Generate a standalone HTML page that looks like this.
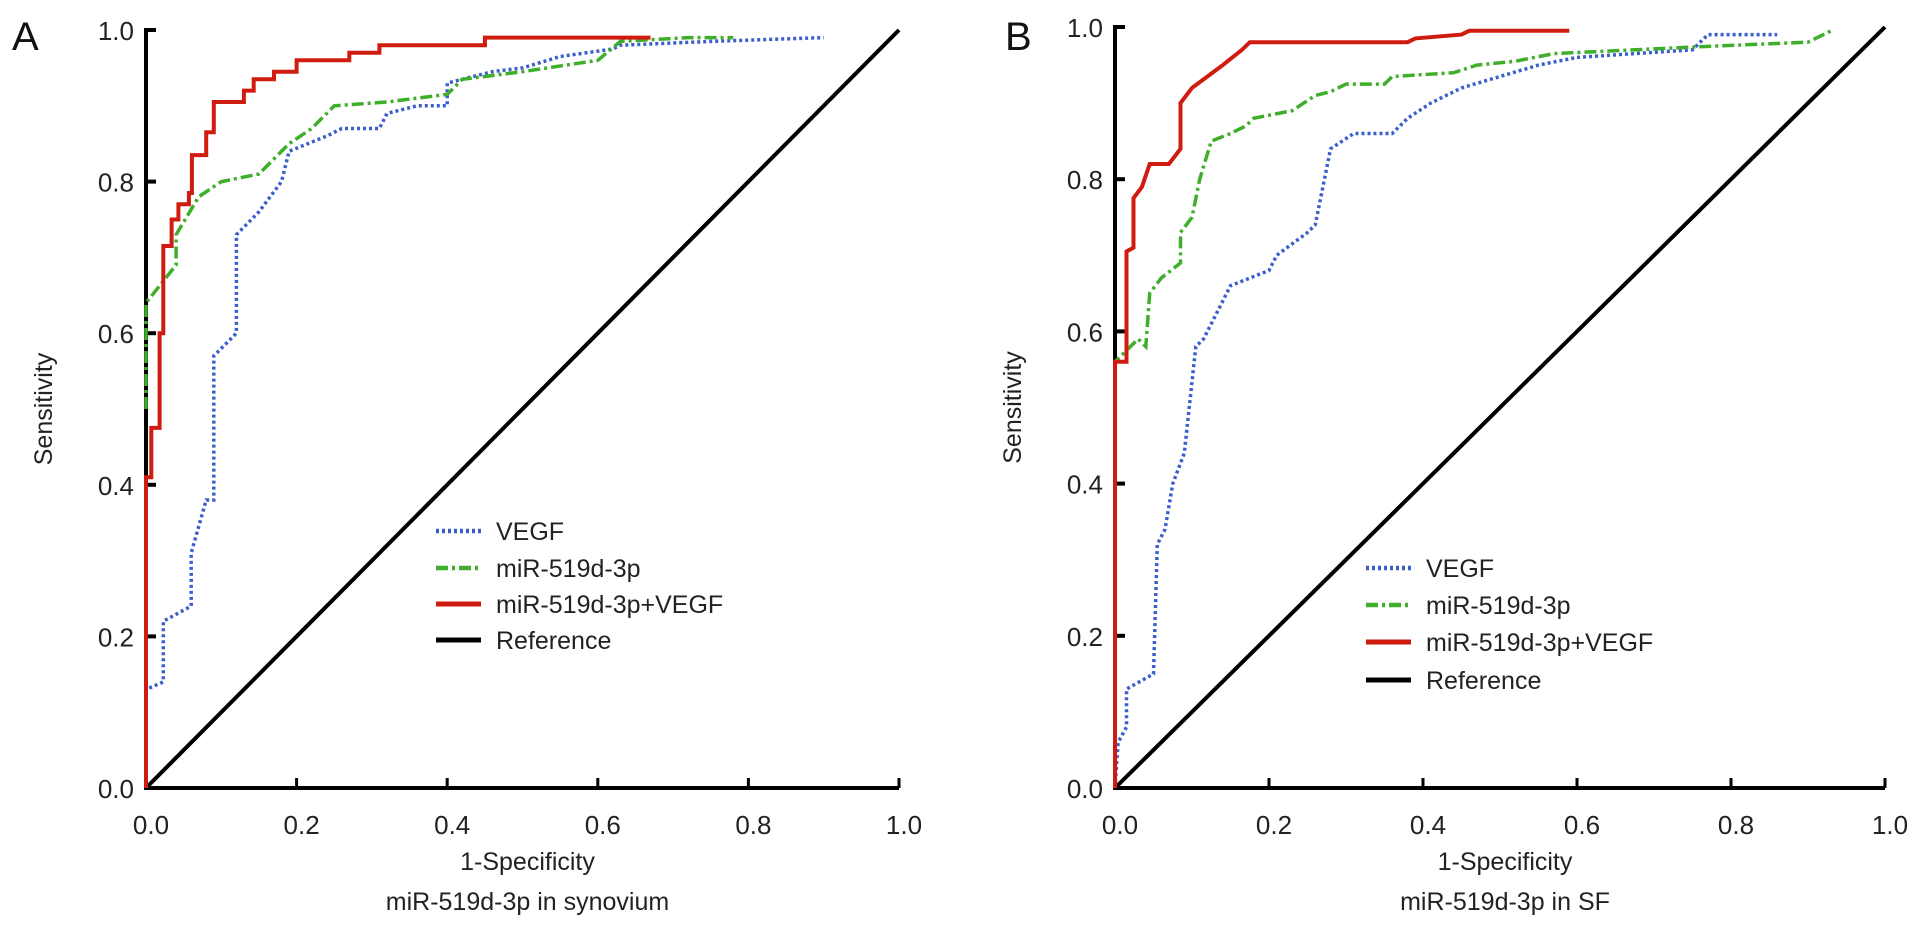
<!DOCTYPE html>
<html><head><meta charset="utf-8"><style>
html,body{margin:0;padding:0;background:#fff;}
svg{display:block;font-family:"Liberation Sans",Arial,sans-serif;}
</style></head><body>
<svg id="chart" width="1913" height="935" viewBox="0 0 1913 935"></svg>
<script>
// Panel A data
const aVegfX = [0,0,0.023,0.023,0.06,0.06,0.08,0.09,0.09,0.12,0.12,0.15,0.18,0.19,0.24,0.26,0.31,0.32,0.36,0.4,0.4,0.46,0.5,0.55,0.62,0.63,0.75,0.9];
const aVegfY = [0,0.13,0.14,0.22,0.24,0.31,0.38,0.38,0.57,0.6,0.73,0.76,0.8,0.84,0.86,0.87,0.87,0.89,0.9,0.9,0.93,0.945,0.95,0.965,0.975,0.98,0.985,0.99];
const aMirX = [0,0,0.04,0.04,0.07,0.1,0.15,0.19,0.22,0.25,0.32,0.36,0.4,0.42,0.5,0.6,0.63,0.72,0.78];
const aMirY = [0.5,0.64,0.69,0.73,0.78,0.8,0.81,0.85,0.87,0.9,0.905,0.91,0.915,0.935,0.945,0.96,0.985,0.99,0.99];
const aCombX = [0,0,0.007,0.007,0.018,0.018,0.023,0.023,0.034,0.034,0.043,0.043,0.057,0.057,0.061,0.061,0.08,0.08,0.09,0.09,0.13,0.13,0.143,0.143,0.17,0.17,0.2,0.2,0.27,0.27,0.31,0.31,0.45,0.45,0.67];
const aCombY = [0,0.41,0.41,0.475,0.475,0.6,0.6,0.715,0.715,0.75,0.75,0.77,0.77,0.785,0.785,0.835,0.835,0.865,0.865,0.905,0.905,0.92,0.92,0.935,0.935,0.945,0.945,0.96,0.96,0.97,0.97,0.98,0.98,0.99,0.99];
// Panel B data
const bVegfX = [0,0.004,0.015,0.015,0.05,0.055,0.065,0.075,0.09,0.105,0.115,0.13,0.15,0.2,0.21,0.25,0.26,0.28,0.31,0.36,0.38,0.41,0.45,0.5,0.55,0.6,0.75,0.77,0.86];
const bVegfY = [0,0.06,0.08,0.13,0.15,0.32,0.34,0.4,0.44,0.58,0.59,0.62,0.66,0.68,0.7,0.73,0.74,0.84,0.86,0.86,0.88,0.9,0.92,0.935,0.95,0.96,0.97,0.99,0.99];
const bMirX = [0,0,0.03,0.04,0.045,0.06,0.085,0.085,0.1,0.11,0.125,0.15,0.17,0.18,0.23,0.26,0.28,0.3,0.35,0.36,0.44,0.47,0.52,0.57,0.78,0.9,0.93];
const bMirY = [0.28,0.56,0.59,0.58,0.65,0.67,0.69,0.73,0.75,0.8,0.85,0.86,0.87,0.88,0.89,0.91,0.915,0.925,0.925,0.935,0.94,0.95,0.955,0.965,0.975,0.98,0.995];
const bCombX = [0,0,0.015,0.015,0.024,0.024,0.035,0.045,0.07,0.085,0.085,0.1,0.12,0.14,0.165,0.175,0.38,0.39,0.45,0.46,0.59];
const bCombY = [0,0.56,0.56,0.705,0.71,0.775,0.79,0.82,0.82,0.84,0.9,0.92,0.935,0.95,0.97,0.98,0.98,0.985,0.99,0.995,0.995];
const ticks = [0,0.2,0.4,0.6,0.8,1.0];
const tickLabels = ["0.0","0.2","0.4","0.6","0.8","1.0"];
const legendLabels = ["VEGF","miR-519d-3p","miR-519d-3p+VEGF","Reference"];

const NS="http://www.w3.org/2000/svg";
const svg=document.getElementById('chart');
function mk(tag,attrs,parent){const e=document.createElementNS(NS,tag);for(const k in attrs)e.setAttribute(k,attrs[k]);(parent||svg).appendChild(e);return e;}

const styles=[
 {stroke:"#3a5fcd",w:3.5,dash:"3 3"},
 {stroke:"#3fae2a",w:3.5,dash:"12 4 3 4"},
 {stroke:"#d01c10",w:4,dash:""},
 {stroke:"#000",w:4,dash:""}
];

function panel(p){
  const g=mk('g',{});
  
  
  const sx=v=>p.x0+v*(p.x1-p.x0);
  const sy=v=>p.y0+v*(p.y1-p.y0);
  const L=mk('text',{x:p.letterX,y:50,'font-size':40,fill:'#111'},g);L.textContent=p.letter;
  
  
  const ax=mk('path',{d:`M${sx(0)+10} ${sy(1)} H${sx(0)} V${sy(0)} H${sx(1)}`,stroke:'#000','stroke-width':4,fill:'none'},g);
  
  
  ticks.forEach((t,i)=>{
    mk('line',{x1:sx(0),x2:sx(0)+10,y1:sy(t),y2:sy(t),stroke:'#000','stroke-width':4},g);
    mk('line',{x1:sx(t),x2:sx(t),y1:sy(0),y2:sy(0)-10,stroke:'#000','stroke-width':3},g);
    const ty=mk('text',{x:sx(0)-12,y:sy(t)+10,'font-size':26,'text-anchor':'end',fill:'#222'},g);ty.textContent=tickLabels[i];
    
    
    const tx=mk('text',{x:sx(t)+5,y:sy(0)+46,'font-size':26,'text-anchor':'middle',fill:'#222'},g);tx.textContent=tickLabels[i];
    
    
  });
  const yt=mk('text',{x:0,y:0,'font-size':25,'text-anchor':'middle',fill:'#222',transform:`translate(${p.ytX},${(sy(0)+sy(1))/2}) rotate(-90)`},g);yt.textContent='Sensitivity';
  
  
  const cx=(sx(0)+sx(1))/2+5;
  const xt=mk('text',{x:cx,y:870,'font-size':25,'text-anchor':'middle',fill:'#222'},g);xt.textContent='1-Specificity';
  
  
  const st=mk('text',{x:cx,y:910,'font-size':25,'text-anchor':'middle',fill:'#222'},g);st.textContent=p.sub;
  
  
  const ref=mk('line',{x1:sx(0),y1:sy(0),x2:sx(1),y2:sy(1),stroke:'#000','stroke-width':4},g);
  
  
  const series=[[p.vx,p.vy,'vegf-curve'],[p.mx,p.my,'mir-curve'],[p.cx,p.cy,'combined-curve']];
  series.forEach((s,i)=>{
    const d=s[0].map((x,j)=>(j?'L':'M')+sx(x).toFixed(1)+' '+sy(s[1][j]).toFixed(1)).join(' ');
    const path=mk('path',{d:d,fill:'none',stroke:styles[i].stroke,'stroke-width':styles[i].w,'stroke-dasharray':styles[i].dash},g);
    
    
  });
  legendLabels.forEach((lab,i)=>{
    const y=p.legY[i];
    const ln=mk('line',{x1:p.legX,x2:p.legX+45,y1:y,y2:y,stroke:styles[i].stroke,'stroke-width':styles[i].w+1,'stroke-dasharray':styles[i].dash},g);
    
    
    const tx=mk('text',{x:p.legX+60,y:y+9,'font-size':25,fill:'#222'},g);tx.textContent=lab;
    
    
  });
}
panel({name:'panel-a',letter:'A',letterX:12,x0:146,x1:899,y0:788,y1:30,ytX:52,sub:'miR-519d-3p in synovium',
  vx:aVegfX,vy:aVegfY,mx:aMirX,my:aMirY,cx:aCombX,cy:aCombY,legX:436,legY:[531,568,604,640]});
panel({name:'panel-b',letter:'B',letterX:1005,x0:1115,x1:1885,y0:788,y1:27,ytX:1021,sub:'miR-519d-3p in SF',
  vx:bVegfX,vy:bVegfY,mx:bMirX,my:bMirY,cx:bCombX,cy:bCombY,legX:1366,legY:[568,605,642,680]});
</script>
</body></html>
